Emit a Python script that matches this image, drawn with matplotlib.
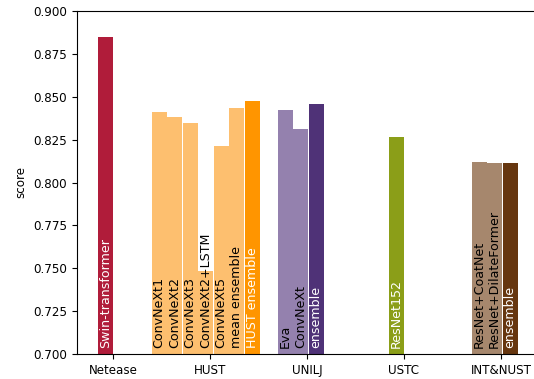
import matplotlib
matplotlib.use("Agg")
import matplotlib.pyplot as plt

# group names on the x axis
groups = ["Netease", "HUST", "UNILJ", "USTC", "INT&NUST"]

# per-group model names and scores
models = [
    ["Swin-transformer"],
    ["ConvNeXt1", "ConvNeXt2", "ConvNeXt3", "ConvNeXt2+LSTM",
     "ConvNeXt5", "mean ensemble", "HUST ensemble"],
    ["Eva", "ConvNeXt", "ensemble"],
    ["ResNet152"],
    ["ResNet+CoatNet", "ResNet+DilateFormer", "ensemble"],
]
scores = [
    [0.885],
    [0.8411, 0.8382, 0.8347, 0.7484, 0.8213, 0.8434, 0.8475],
    [0.8423, 0.8312, 0.8458],
    [0.8265],
    [0.8120, 0.8114, 0.8114],
]

# bar colours (one per bar) and label text colours
colors = [
    ["#b01c3a"],
    ["#fdbf6f"] * 6 + ["#ff9500"],
    ["#9481ae", "#9481ae", "#4f3277"],
    ["#8b9e18"],
    ["#a6876d", "#a6876d", "#66360f"],
]
text_colors = [
    ["white"],
    ["black"] * 6 + ["white"],
    ["black", "black", "white"],
    ["white"],
    ["black", "black", "white"],
]

fig = plt.figure(figsize=(5.34, 3.79), dpi=100)
# right spine sits past the image edge, as in the original crop
ax = fig.add_axes([77 / 534, 25 / 379, 464 / 534, 343 / 379])
ax.spines["right"].set_visible(False)

step = 0.16
width = 0.155
for g, (names, vals) in enumerate(zip(models, scores)):
    n = len(vals)
    for i, (name, v) in enumerate(zip(names, vals)):
        x = g + (i - n / 2) * step + 0.005 * n
        ax.bar(x, v - 0.7, bottom=0.7, width=width, color=colors[g][i], linewidth=0)
        ax.text(x, 0.7035, name, rotation=90, ha="center", va="bottom",
                fontsize=9.1, color=text_colors[g][i])

ax.set_ylim(0.7, 0.9)
ax.set_xlim(-0.371, (541 - 113) / 97)
ax.set_xticks(range(len(groups)))
ax.set_xticklabels(groups)
ax.set_yticks([0.700, 0.725, 0.750, 0.775, 0.800, 0.825, 0.850, 0.875, 0.900])
ax.set_yticklabels(["%.3f" % t for t in ax.get_yticks()])
ax.tick_params(labelsize=8.6)
ax.set_ylabel("score", fontsize=8.6)

fig.savefig("out.png", dpi=100)
